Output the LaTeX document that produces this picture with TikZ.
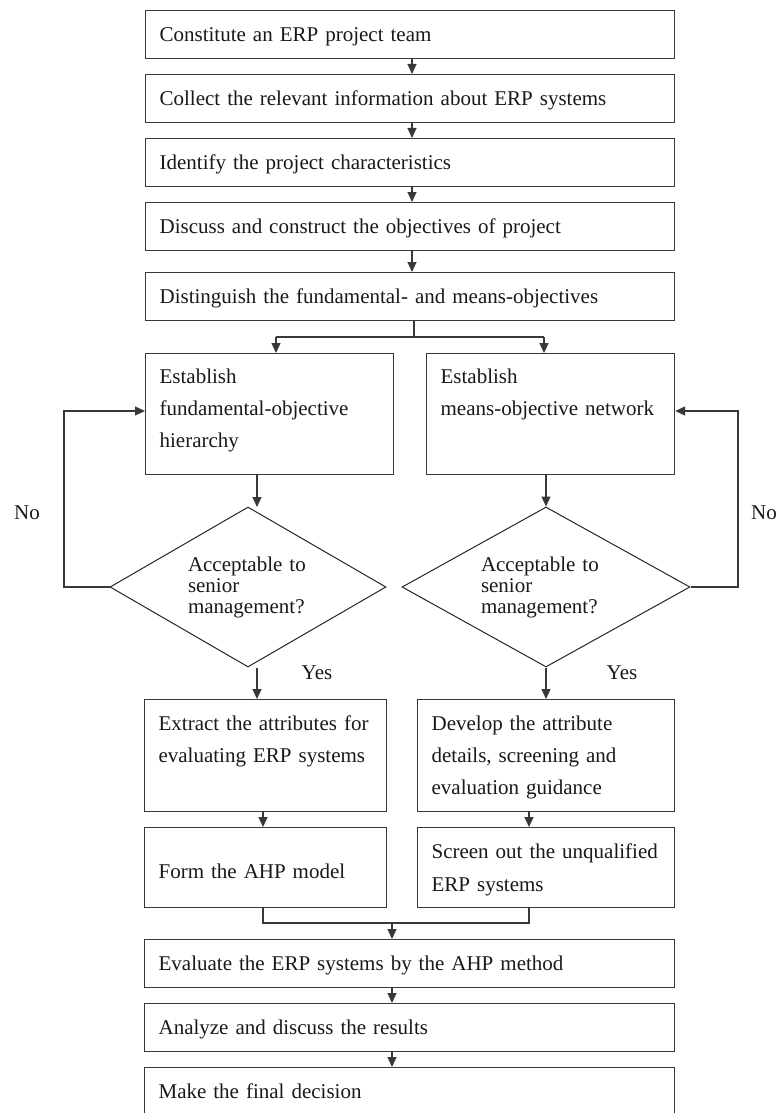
\documentclass[tikz,border=0pt]{standalone}
\usepackage{fontspec}
\setmainfont{Liberation Serif}
\usetikzlibrary{arrows.meta,shapes.geometric}
\begin{document}
\begin{tikzpicture}[x=1pt,y=-1pt,
  font=\fontsize{21}{32}\selectfont,
  every node/.style={text=black!90},
  line/.style={draw=black!78, line width=1.2pt},
  arr/.style={line, -{Triangle[length=10pt,width=9pt]}},
  box/.style={line, rectangle, inner xsep=14pt, inner ysep=0pt, align=left,
    anchor=north west, text height=31pt, text depth=17pt},
  decision/.style={draw=black!85, line width=1pt, diamond, inner sep=0pt,
    align=left, font=\fontsize{21}{21}\selectfont},
  tag/.style={inner sep=0pt}
]
\fill[white] (0,0) rectangle (779,1113);
\useasboundingbox (0,0) rectangle (779,1113);

% main column, upper part
\node[box, text width=501pt] (s1) at (145,10) {Constitute an ERP project team};
\node[box, text width=501pt] (s2) at (145,74) {Collect the relevant information about ERP systems};
\node[box, text width=501pt] (s3) at (145,138) {Identify the project characteristics};
\node[box, text width=501pt] (s4) at (145,202) {Discuss and construct the objectives of project};
\node[box, text width=501pt] (s5) at (145,272) {Distinguish the fundamental- and means-objectives};

% two branches
\node[box, text width=220pt, text height=30pt, text depth=91pt] (f1) at (145,353)
  {Establish\\fundamental-objective\\hierarchy};
\node[box, text width=220pt, text height=30pt, text depth=91pt] (m1) at (426,353)
  {Establish\\means-objective network};

\node[decision, shape aspect=1.725, minimum width=276pt, minimum height=160pt, text width=120pt] (d1) at (248,587)
  {Acceptable to\\senior\\management?};
\node[decision, shape aspect=1.8, minimum width=288pt, minimum height=160pt, text width=130pt] (d2) at (546,587)
  {Acceptable to\\senior\\management?};

\node[box, text width=214pt, text height=31pt, text depth=81pt] (f2) at (144,699)
  {Extract the attributes for\\evaluating ERP systems};
\node[box, text width=229pt, text height=31pt, text depth=81pt] (m2) at (417,699)
  {Develop the attribute\\details, screening and\\evaluation guidance};

\node[box, text width=214pt, text height=51pt, text depth=29pt] (f3) at (144,827)
  {Form the AHP model};
\node[box, text width=229pt, text height=31pt, text depth=49pt] (m3) at (417,827)
  {Screen out the unqualified\\[1pt]ERP systems};

% main column, lower part
\node[box, text width=502pt] (e1) at (144,939) {Evaluate the ERP systems by the AHP method};
\node[box, text width=502pt] (e2) at (144,1003) {Analyze and discuss the results};
\node[box, text width=502pt] (e3) at (144,1067) {Make the final decision};

% labels
\node[tag] (no1) at (27,513) {No};
\node[tag] (no2) at (764,513) {No};
\node[tag] (yes1) at (317,673) {Yes};
\node[tag] (yes2) at (622,673) {Yes};

% helper points for connectors
\coordinate (ax) at (412,0);
\coordinate (br) at (414,337);
\coordinate (bl) at (276,337);
\coordinate (bR) at (544,337);
\coordinate (t1) at (257,507);
\coordinate (lx) at (64,411);
\coordinate (rx) at (738,411);
\coordinate (ml) at (263,923);
\coordinate (mr) at (529,923);
\coordinate (mg) at (392,923);

% connectors
\draw[arr] (s1.south -| ax) -- (s2.north -| ax);
\draw[arr] (s2.south -| ax) -- (s3.north -| ax);
\draw[arr] (s3.south -| ax) -- (s4.north -| ax);
\draw[arr] (s4.south -| ax) -- (s5.north -| ax);

\draw[line] (s5.south -| br) -- (br);
\draw[line] (bl) -- (bR);
\draw[arr] (bl) -- (f1.north -| bl);
\draw[arr] (bR) -- (m1.north -| bR);

\draw[arr] (f1.south -| t1) -- (t1);
\draw[arr] (m1.south -| d2.north) -- (d2.north);

\draw[arr] (d1.west) -| (lx) -- (f1.west |- lx);
\draw[arr] (d2.east) -| (rx) -- (m1.east |- rx);

\draw[arr] (d1.south -| t1) -- (f2.north -| t1);
\draw[arr] (d2.south) -- (m2.north -| d2.south);

\draw[arr] (f2.south -| ml) -- (f3.north -| ml);
\draw[arr] (m2.south -| mr) -- (m3.north -| mr);

\draw[line] (f3.south -| ml) -- (ml) -- (mr) -- (m3.south -| mr);
\draw[arr] (mg) -- (e1.north -| mg);
\draw[arr] (e1.south -| mg) -- (e2.north -| mg);
\draw[arr] (e2.south -| mg) -- (e3.north -| mg);
\end{tikzpicture}
\end{document}
